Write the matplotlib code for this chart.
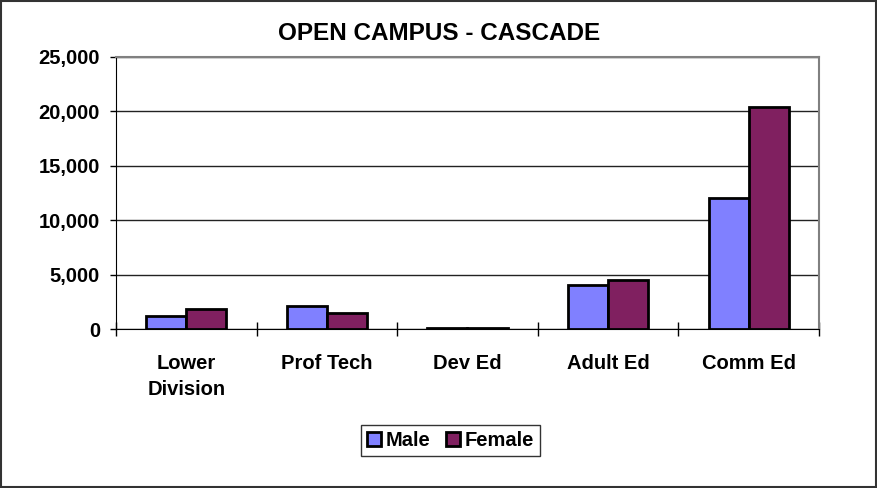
import matplotlib.pyplot as plt
from matplotlib.ticker import FuncFormatter
import numpy as np

categories = ["Lower\nDivision", "Prof Tech", "Dev Ed", "Adult Ed", "Comm Ed"]
male = [1150, 2100, 90, 4050, 12050]
female = [1800, 1500, 120, 4500, 20400]

plt.rcParams['font.family'] = ['Liberation Sans', 'DejaVu Sans']
plt.rcParams['font.weight'] = 'bold'

fig = plt.figure(figsize=(8.78, 4.88), dpi=100)
ax = fig.add_axes([0.1321, 0.3258, 0.8007, 0.5574])

x = np.arange(len(categories))
w = 0.285
ax.bar(x - w/2, male, w, color='#8080FF', edgecolor='black', linewidth=2, label='Male', zorder=3)
ax.bar(x + w/2, female, w, color='#802060', edgecolor='black', linewidth=2, label='Female', zorder=3)

ax.set_xlim(-0.5, len(categories) - 0.5)
ax.set_ylim(0, 25000)
ax.set_yticks(range(0, 25001, 5000))
ax.yaxis.set_major_formatter(FuncFormatter(lambda v, p: f"{int(v):,}"))
ax.yaxis.grid(True, color='#222222', linewidth=1, zorder=0)
ax.tick_params(axis='y', length=4.5, width=1, labelsize=14.5, pad=7)

# category boundaries as ticks, labels in the middle
ax.set_xticks(np.arange(-0.5, len(categories)), minor=False)
ax.set_xticklabels([])
ax.tick_params(axis='x', which='major', direction='inout', length=10, width=1)
ax.set_xticks(x, minor=True)
ax.set_xticklabels(categories, minor=True, fontsize=14.5, fontweight='bold', linespacing=1.45)
ax.tick_params(axis='x', which='minor', length=0, pad=18)

for s in ['left', 'bottom']:
    ax.spines[s].set_color('black')
for s in ['top', 'right']:
    ax.spines[s].set_color('#808080')
    ax.spines[s].set_linewidth(1.5)

fig.text(0.5, 0.931, "OPEN CAMPUS - CASCADE", ha='center', va='center',
         fontsize=17.5, fontweight='bold')

leg = fig.legend(loc='center', bbox_to_anchor=(0.513, 0.0973), ncol=2,
                 fontsize=14.5, frameon=True, fancybox=False, edgecolor='black',
                 handlelength=0.7, handleheight=0.7, handletextpad=0.2,
                 columnspacing=0.8, borderpad=0.3, borderaxespad=0)
leg.get_frame().set_linewidth(1)

fig.patches.append(plt.Rectangle((0.001, 0.002), 0.997, 0.996, transform=fig.transFigure,
                                 fill=False, edgecolor='#333333', linewidth=1.5))

fig.savefig("out.png", dpi=100)
